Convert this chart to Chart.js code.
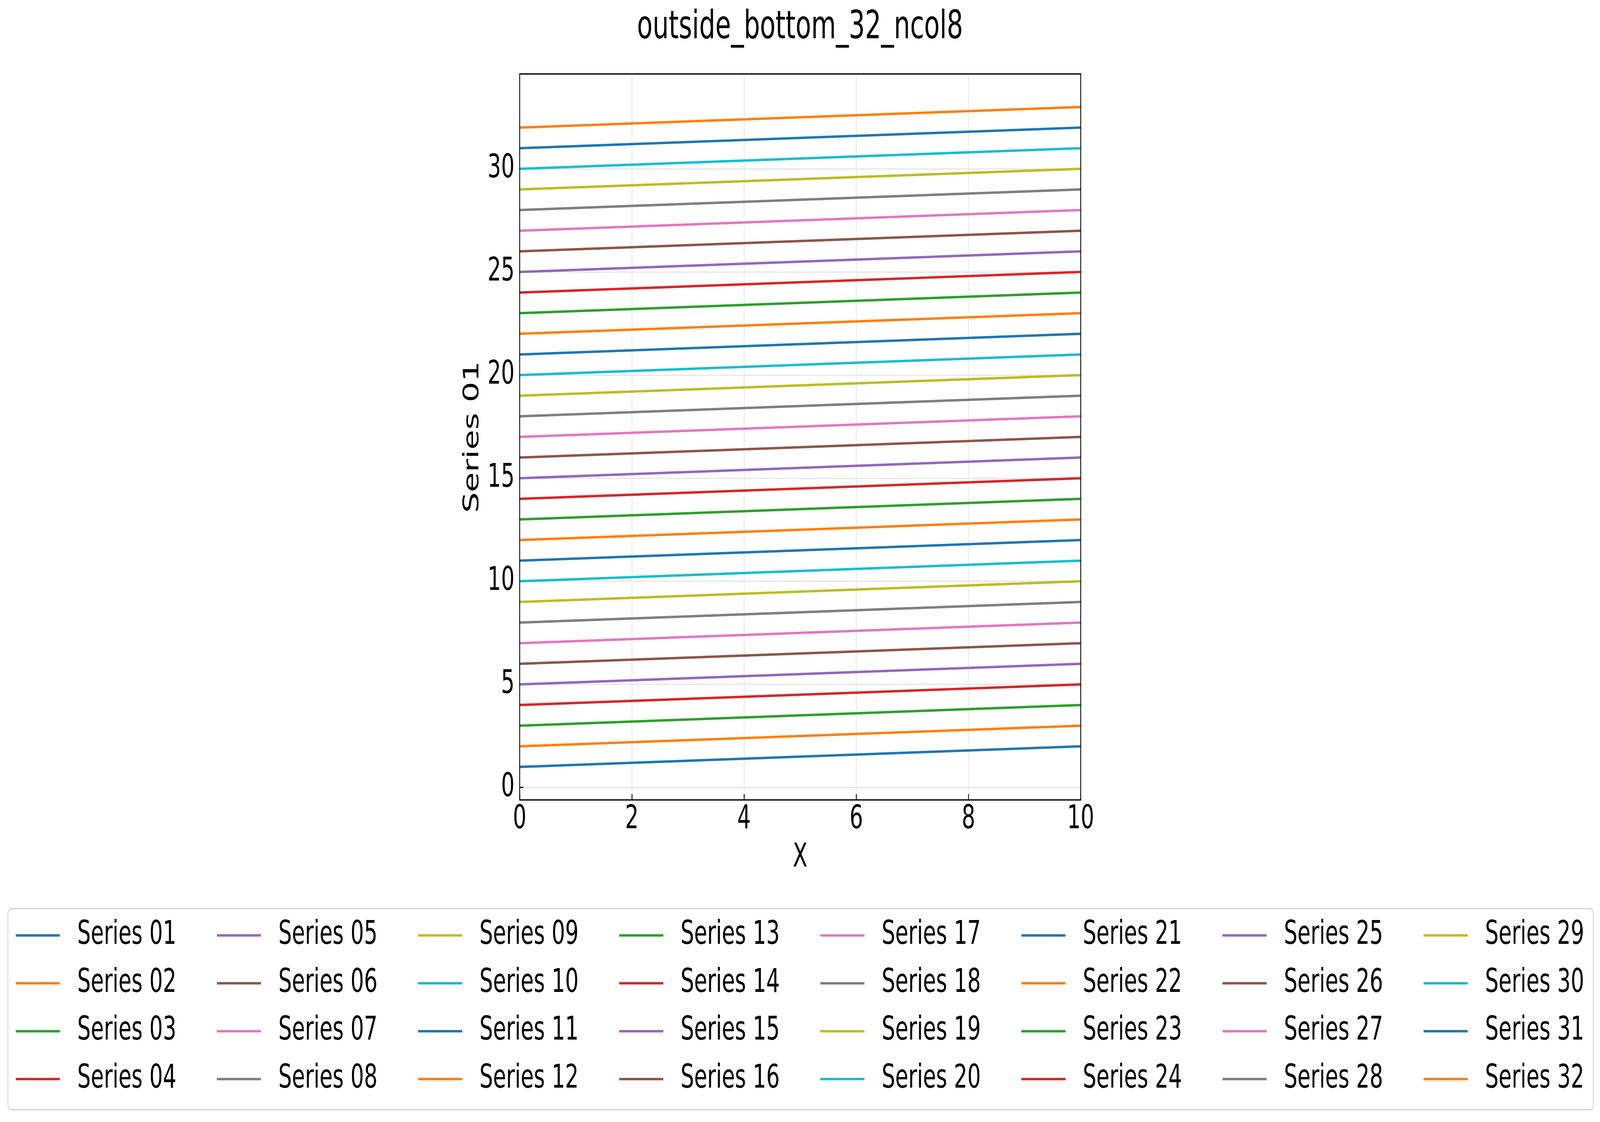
<!DOCTYPE html>
<html>
<head>
<meta charset="utf-8">
<script src="https://cdn.jsdelivr.net/npm/chart.js@4/dist/chart.umd.min.js"></script>
<style>
	html, body { margin: 0; padding: 0; background: #fff; overflow: hidden; }
	canvas { display: block; }
</style>
</head>
<body>
<canvas id="chart" width="6275" height="2872" style="width:100vw;height:100vh"></canvas>
<script>
// x positions of the two ends of every line
const xValues = [0, 10];

const seriesNames = [
	"Series 01", "Series 02", "Series 03", "Series 04", "Series 05", "Series 06", "Series 07", "Series 08",
	"Series 09", "Series 10", "Series 11", "Series 12", "Series 13", "Series 14", "Series 15", "Series 16",
	"Series 17", "Series 18", "Series 19", "Series 20", "Series 21", "Series 22", "Series 23", "Series 24",
	"Series 25", "Series 26", "Series 27", "Series 28", "Series 29", "Series 30", "Series 31", "Series 32"
];

// value of each series at x = 0
const startValues = [
	1, 2, 3, 4, 5, 6, 7, 8, 9, 10, 11, 12, 13, 14, 15, 16,
	17, 18, 19, 20, 21, 22, 23, 24, 25, 26, 27, 28, 29, 30, 31, 32
];

// value of each series at x = 10
const endValues = [
	2, 3, 4, 5, 6, 7, 8, 9, 10, 11, 12, 13, 14, 15, 16, 17,
	18, 19, 20, 21, 22, 23, 24, 25, 26, 27, 28, 29, 30, 31, 32, 33
];

const xTickValues = [0, 2, 4, 6, 8, 10];
const yTickValues = [0, 5, 10, 15, 20, 25, 30];

const palette = ["#1f77b4", "#ff7f0e", "#2ca02c", "#d62728", "#9467bd", "#8c564b", "#e377c2", "#7f7f7f", "#bcbd22", "#17becf"];

const FONT = "'DejaVu Sans', sans-serif";
const LABEL_SIZE = 83.33;
const TITLE_SIZE = 100;
const LEGEND_ROWS = 4;
const LEGEND_COLS = 8;
const LEGEND_HANDLE = 173;
const LEGEND_PAD = 39.3;
const COLUMN_PITCH = 789.4;

Chart.defaults.font.family = FONT;
Chart.defaults.color = "#000";

// matplotlib fills the legend column by column, chart.js row by row
function legendOrder(index) {
	const row = index % LEGEND_ROWS;
	const col = Math.floor(index / LEGEND_ROWS);
	return row * LEGEND_COLS + col;
}

// widen each legend text with blanks so that the columns line up
function buildLegendTexts() {
	const ctx = document.createElement("canvas").getContext("2d");
	ctx.font = "normal " + LABEL_SIZE + "px " + FONT;
	const target = COLUMN_PITCH - LEGEND_PAD - LEGEND_HANDLE - LABEL_SIZE / 2;
	return seriesNames.map((name, i) => {
		const base = " " + name;
		if (Math.floor(i / LEGEND_ROWS) === LEGEND_COLS - 1) {
			return base;
		}
		let best = base;
		let bestErr = Infinity;
		for (let n = 0; n < 10; n++) {
			for (let m = 0; m < 6; m++) {
				for (let k = 0; k < 4; k++) {
					const text = base + " ".repeat(n) + "\u2009".repeat(m) + "\u200A".repeat(k);
					const err = Math.abs(ctx.measureText(text).width - target);
					if (err < bestErr) {
						bestErr = err;
						best = text;
					}
				}
			}
		}
		return best;
	});
}

const legendTexts = buildLegendTexts();

const datasets = seriesNames.map((name, i) => ({
	label: name,
	data: [
		{ x: xValues[0], y: startValues[i] },
		{ x: xValues[1], y: endValues[i] }
	],
	borderColor: palette[i % palette.length],
	backgroundColor: palette[i % palette.length],
	borderWidth: 6.25,
	pointRadius: 0,
	fill: false,
	tension: 0
}));

const framePlugin = {
	id: "frames",
	afterDatasetsDraw(chart) {
		const { ctx, chartArea } = chart;
		ctx.save();
		ctx.strokeStyle = "#000";
		ctx.lineWidth = 3.3;
		ctx.strokeRect(chartArea.left, chartArea.top, chartArea.right - chartArea.left, chartArea.bottom - chartArea.top);
		ctx.restore();
	},
	afterDraw(chart) {
		const boxes = chart.legend.legendHitBoxes;
		if (!boxes || !boxes.length) {
			return;
		}
		let left = Infinity, right = -Infinity, top = Infinity, bottom = -Infinity;
		boxes.forEach((box) => {
			left = Math.min(left, box.left);
			right = Math.max(right, box.left + box.width);
			top = Math.min(top, box.top);
			bottom = Math.max(bottom, box.top + box.height);
		});
		const ctx = chart.ctx;
		ctx.save();
		ctx.strokeStyle = "#d5d5d5";
		ctx.lineWidth = 3.3;
		ctx.beginPath();
		ctx.roundRect(left - 31, top - 27, (right + 36) - (left - 31), (bottom + 37) - (top - 27), 15);
		ctx.stroke();
		ctx.restore();
	}
};

new Chart(document.getElementById("chart"), {
	type: "line",
	data: { datasets: datasets },
	plugins: [framePlugin],
	options: {
		responsive: false,
		devicePixelRatio: 1,
		animation: false,
		layout: { padding: { top: 0, left: 0, right: 0, bottom: 58.1 } },
		plugins: {
			title: {
				display: true,
				text: "outside_bottom_32_ncol8",
				color: "#000",
				font: { size: TITLE_SIZE, weight: "normal", lineHeight: 1.2 },
				padding: { top: 12, bottom: 57.3 }
			},
			legend: {
				position: "bottom",
				align: "center",
				labels: {
					usePointStyle: true,
					pointStyle: "line",
					pointStyleWidth: LEGEND_HANDLE,
					padding: LEGEND_PAD,
					color: "#000",
					font: { size: LABEL_SIZE },
					sort: (a, b) => legendOrder(a.datasetIndex) - legendOrder(b.datasetIndex),
					generateLabels: (chart) => chart.data.datasets.map((ds, i) => ({
						text: legendTexts[i],
						fillStyle: ds.borderColor,
						strokeStyle: ds.borderColor,
						lineWidth: ds.borderWidth,
						pointStyle: "line",
						fontColor: "#000",
						hidden: false,
						datasetIndex: i
					}))
				}
			},
			tooltip: { enabled: false }
		},
		scales: {
			x: {
				type: "linear",
				position: "bottom",
				min: 0,
				max: 10,
				afterBuildTicks: (scale) => { scale.ticks = xTickValues.map((v) => ({ value: v })); },
				afterFit: (scale) => { scale.height = 265.8; },
				border: { display: false },
				grid: {
					color: "#e6e6e6",
					lineWidth: 3,
					drawTicks: true,
					tickLength: -15,
					tickColor: "#000",
					tickWidth: 3.3
				},
				ticks: {
					padding: 15.3,
					maxRotation: 0,
					color: "#000",
					font: { size: LABEL_SIZE, lineHeight: 1.2 }
				},
				title: {
					display: true,
					text: "X",
					color: "#000",
					font: { size: LABEL_SIZE, lineHeight: 1.2 },
					padding: { top: 0, bottom: 67.5 }
				}
			},
			y: {
				type: "linear",
				position: "left",
				min: -0.6,
				max: 34.6,
				afterBuildTicks: (scale) => { scale.ticks = yTickValues.map((v) => ({ value: v })); },
				afterFit: (scale) => { scale.width = 2038; },
				border: { display: false },
				grid: {
					color: "#e6e6e6",
					lineWidth: 3,
					drawTicks: true,
					tickLength: -15,
					tickColor: "#000",
					tickWidth: 3.3
				},
				ticks: {
					padding: 35,
					color: "#000",
					font: { size: LABEL_SIZE, lineHeight: 1.2 }
				},
				title: {
					display: true,
					text: "Series 01",
					color: "#000",
					font: { size: LABEL_SIZE, lineHeight: 1.2 },
					padding: { top: 1804, bottom: 0 }
				}
			},
			yRight: {
				type: "linear",
				position: "right",
				display: true,
				afterFit: (scale) => { scale.width = 2036.7; },
				border: { display: false },
				grid: { display: false, drawTicks: false },
				ticks: { display: false }
			}
		}
	}
});
</script>
</body>
</html>
